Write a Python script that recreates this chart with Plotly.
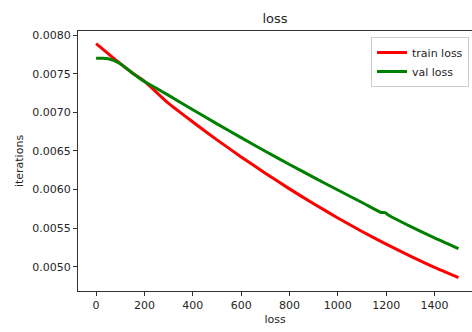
import plotly.graph_objects as go

# Training history: iteration number and loss values
train_iter = [0, 50, 100, 150, 200, 300, 400, 500, 600, 700, 800, 900, 1000,
              1100, 1200, 1300, 1400, 1499]
train_loss = [0.00789, 0.00776, 0.00763, 0.00751, 0.00740, 0.007115, 0.006875,
              0.006644, 0.006423, 0.006212, 0.006009, 0.005816, 0.005633,
              0.005458, 0.005293, 0.005138, 0.004992, 0.004861]

val_iter = [0, 25, 50, 75, 100, 125, 150, 175, 200, 250, 300, 400, 500, 600, 700,
            800, 900, 1000, 1100, 1180, 1195, 1210, 1300, 1400, 1499]
val_loss = [0.00770, 0.00770, 0.007695, 0.00767, 0.00763, 0.00757, 0.00751,
            0.00745, 0.00740, 0.00731, 0.00722, 0.007034, 0.006851, 0.006672,
            0.006497, 0.006325, 0.006158, 0.005994, 0.005833, 0.005703,
            0.005702, 0.005668, 0.005524, 0.005375, 0.005237]

x_ticks = [0, 200, 400, 600, 800, 1000, 1200, 1400]
y_ticks = [0.0050, 0.0055, 0.0060, 0.0065, 0.0070, 0.0075, 0.0080]

FONT = "DejaVu Sans"
AXIS_COLOR = "#333333"

fig = go.Figure()
fig.add_trace(go.Scatter(x=train_iter, y=train_loss, mode="lines", name="train loss",
                         line=dict(color="#ff0000", width=3, shape="spline",
                                   smoothing=0.6)))
fig.add_trace(go.Scatter(x=val_iter, y=val_loss, mode="lines", name="val loss",
                         line=dict(color="#008000", width=3, shape="spline",
                                   smoothing=0.6)))

fig.update_layout(
    width=472, height=332,
    margin=dict(l=78, r=0, t=31, b=41),
    paper_bgcolor="white", plot_bgcolor="white",
    font=dict(family=FONT, size=11, color="#262626"),
    title=dict(text="loss", x=0.5, xref="paper", xanchor="center",
               y=1 - 18 / 332, yref="container", yanchor="middle",
               font=dict(size=13, color="#262626")),
    legend=dict(x=0.9924, xanchor="right", y=0.977, yanchor="top",
                bgcolor="white", bordercolor="#cccccc", borderwidth=1,
                font=dict(size=11), itemwidth=30, tracegroupgap=0),
    showlegend=True,
)
fig.update_xaxes(
    range=[-74.95, 1555], tickvals=x_ticks, ticktext=[str(v) for v in x_ticks],
    showgrid=False, zeroline=False, showline=True, linecolor=AXIS_COLOR, linewidth=1,
    mirror=True, ticks="outside", ticklen=4, tickcolor=AXIS_COLOR,
    title=dict(text="loss", standoff=4, font=dict(size=11)),
)
fig.update_yaxes(
    range=[0.004687, 0.008053], tickvals=y_ticks, tickformat=".4f",
    showgrid=False, zeroline=False, showline=True, linecolor=AXIS_COLOR, linewidth=1,
    ticks="outside", ticklen=4, tickcolor=AXIS_COLOR,
    title=dict(text="iterations", standoff=6, font=dict(size=11)),
)

fig.write_html("out.html", config={"displayModeBar": False})
